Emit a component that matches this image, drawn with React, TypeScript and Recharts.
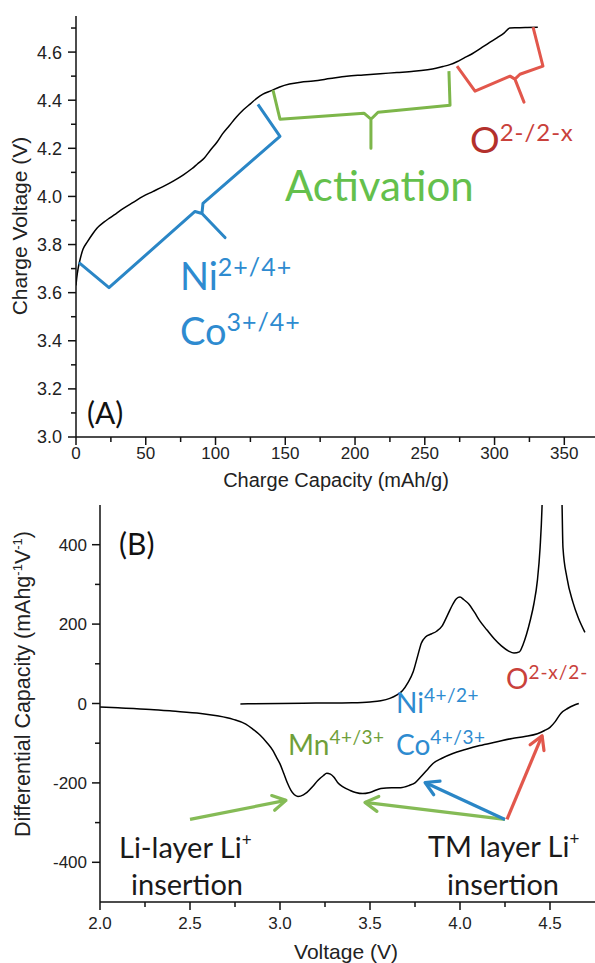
import React from 'react';
import { LineChart, Line, XAxis, YAxis } from 'recharts';

// ---------- Panel A: charge curve ----------
const capacityA = [0, 0.5, 1.5, 3, 5, 8, 12, 15, 20, 24, 29, 34, 41, 48, 55, 62, 70, 77, 83, 87, 92, 96, 101, 105, 110, 115, 120, 125, 130, 134, 140, 146, 153, 161, 170, 182, 194, 206, 218, 230, 242, 252, 258, 263, 268, 273, 278, 284, 290, 296, 302, 307, 311, 316, 322, 331];
const voltageA = [3.63, 3.66, 3.70, 3.74, 3.78, 3.81, 3.845, 3.868, 3.893, 3.91, 3.93, 3.95, 3.975, 4.0, 4.02, 4.04, 4.065, 4.09, 4.115, 4.135, 4.16, 4.19, 4.225, 4.26, 4.295, 4.33, 4.36, 4.385, 4.41, 4.425, 4.44, 4.455, 4.467, 4.475, 4.48, 4.49, 4.50, 4.505, 4.51, 4.515, 4.52, 4.527, 4.533, 4.54, 4.548, 4.56, 4.575, 4.593, 4.615, 4.638, 4.66, 4.68, 4.70, 4.701, 4.702, 4.703];

const xMajorA = [0, 50, 100, 150, 200, 250, 300, 350];
const xMinorA = [25, 75, 125, 175, 225, 275, 325];
const yMajorA = [3.0, 3.2, 3.4, 3.6, 3.8, 4.0, 4.2, 4.4, 4.6];
const yMinorA = [3.1, 3.3, 3.5, 3.7, 3.9, 4.1, 4.3, 4.5, 4.7];

// bracket annotations (data units of panel A)
const bracketBlueX = [2.15, 23.65, 85.3, 90.3, 106.8, 90.3, 91.0, 146.2, 130.4];
const bracketBlueY = [3.725, 3.621, 3.9375, 3.929, 3.829, 3.929, 3.971, 4.25, 4.383];
const bracketGreenX = [141.2, 146.2, 206.4, 211.4, 211.4, 211.4, 216.5, 268.1, 267.3];
const bracketGreenY = [4.442, 4.321, 4.346, 4.321, 4.2, 4.321, 4.35, 4.379, 4.521];
const bracketRedX = [273.1, 286.0, 311.1, 314.6, 321.1, 314.6, 318.2, 334.7, 327.6];
const bracketRedY = [4.542, 4.4375, 4.5, 4.4875, 4.392, 4.4875, 4.508, 4.542, 4.704];

// ---------- Panel B: differential capacity ----------
const dischargeV = [2.00, 2.10, 2.28, 2.40, 2.56, 2.65, 2.74, 2.81, 2.85, 2.89, 2.93, 2.96, 2.98, 3.00, 3.02, 3.04, 3.06, 3.08, 3.10, 3.13, 3.15, 3.18, 3.21, 3.24, 3.26, 3.28, 3.30, 3.32, 3.35, 3.39, 3.42, 3.46, 3.50, 3.56, 3.62, 3.67, 3.72, 3.75, 3.78, 3.82, 3.85, 3.90, 3.96, 4.03, 4.11, 4.20, 4.29, 4.36, 4.43, 4.47, 4.50, 4.53, 4.56, 4.60, 4.63, 4.66];
const dischargeDQ = [-9, -11, -15, -19, -25, -31, -40, -52, -65, -80, -100, -118, -135, -152, -175, -199, -218, -230, -234, -230, -224, -210, -194, -182, -176, -178, -186, -199, -210, -219, -224, -227, -224, -214, -212, -212, -206, -200, -186, -166, -151, -138, -126, -116, -106, -97, -88, -83, -76, -68, -60, -45, -25, -12, -5, 0];
const chargeV = [2.78, 3.00, 3.20, 3.40, 3.50, 3.56, 3.61, 3.65, 3.68, 3.71, 3.74, 3.765, 3.785, 3.81, 3.84, 3.87, 3.90, 3.93, 3.96, 3.98, 4.00, 4.02, 4.05, 4.08, 4.11, 4.15, 4.19, 4.23, 4.27, 4.30, 4.33, 4.35, 4.37, 4.39, 4.41, 4.43, 4.445, 4.456, 4.47, 4.51, 4.555, 4.567, 4.572, 4.594, 4.628, 4.656, 4.694];
const chargeDQ = [-1, 0, 1, 2, 4, 7, 13, 22, 32, 52, 80, 120, 152, 168, 175, 182, 195, 222, 250, 264, 268, 262, 250, 230, 208, 185, 163, 145, 132, 127, 130, 148, 175, 209, 250, 310, 393, 500, 800, 1300, 800, 500, 393, 317, 254, 217, 179];

const xMajorB = [2.0, 2.5, 3.0, 3.5, 4.0, 4.5];
const xMinorB = [2.25, 2.75, 3.25, 3.75, 4.25];
const yMajorB = [-400, -200, 0, 200, 400];
const yMinorB = [-300, -100, 100, 300];

// arrows (data units of panel B): [tailX, tailY, tipX, tipY]
const arrowLiLayer = [2.5, -292, 3.033, -244];
const arrowTmMn = [4.25, -292, 3.472, -249];
const arrowTmNiCo = [4.25, -292, 3.806, -199];
const arrowTmO = [4.261, -292, 4.456, -81];

const zip = (xs: number[], ys: number[]) => xs.map((x, i) => ({ x, y: ys[i] }));
const seg = (a: number[]) => [{ x: a[0], y: a[1] }, { x: a[2], y: a[3] }];

const AXIS_FONT = '"Liberation Sans", Arial, sans-serif';
const ANNO_FONT = 'Lato, "Open Sans", sans-serif';

const BLUE = '#2e8bd0';
const BLUE_LINE = '#2a86c6';
const GREEN_TXT = '#64c04c';
const GREEN_LINE = '#7db64a';
const GREEN_MN = '#6f9f3a';
const GREEN_ARROW = '#85bb56';
const RED_LINE = '#e2574c';
const RED_DARK = '#b3302c';
const RED_TXT = '#c9413b';

function makeTick(orient: 'x' | 'y', majors: number[], digits: number, fontSize: number, gap: number) {
  return (props: any) => {
    const { x, y, payload } = props;
    const v = payload.value as number;
    const isMajor = majors.some((m) => Math.abs(m - v) < 1e-6);
    const len = isMajor ? 8 : 5;
    if (orient === 'y') {
      return (
        <g>
          <line x1={x} x2={x - len} y1={y} y2={y} stroke="#111" strokeWidth={1.5} />
          {isMajor && (
            <text x={x - gap} y={y} dy="0.36em" textAnchor="end" fontFamily={AXIS_FONT} fontSize={fontSize} fill="#222">
              {v.toFixed(digits)}
            </text>
          )}
        </g>
      );
    }
    return (
      <g>
        <line x1={x} x2={x} y1={y} y2={y + len} stroke="#111" strokeWidth={1.5} />
        {isMajor && (
          <text x={x} y={y + gap} textAnchor="middle" fontFamily={AXIS_FONT} fontSize={fontSize} fill="#222">
            {v.toFixed(digits)}
          </text>
        )}
      </g>
    );
  };
}

const SupText = ({ x, y, base, sup, size, supSize, rise, fill, supFill, spacing = 0 }: any) => (
  <text x={x} y={y} fontFamily={ANNO_FONT} fontSize={size} fill={fill}>
    {base}
    <tspan fontSize={supSize} dy={-rise} fill={supFill || fill} letterSpacing={spacing}>
      {sup}
    </tspan>
  </text>
);

export default function App() {
  const dataA = zip(capacityA, voltageA);
  const dataDis = zip(dischargeV, dischargeDQ);
  const dataChg = zip(chargeV, chargeDQ);

  return (
    <div style={{ position: 'absolute', left: 0, top: 0, width: 595, height: 963, background: '#fff', overflow: 'hidden' }}>
      {/* Panel A */}
      <div style={{ position: 'absolute', left: 0, top: 0 }}>
        <LineChart width={595} height={500} margin={{ top: 16, right: 0, left: 0, bottom: 0 }}>
          <XAxis
            type="number"
            dataKey="x"
            domain={[0, 372]}
            allowDataOverflow
            ticks={[...xMajorA, ...xMinorA].sort((a, b) => a - b)}
            interval={0}
            height={63}
            tickSize={0}
            tickMargin={0}
            tickLine={false}
            axisLine={{ stroke: '#111', strokeWidth: 1.5 }}
            tick={makeTick('x', xMajorA, 0, 17, 22)}
          />
          <YAxis
            type="number"
            dataKey="y"
            domain={[3.0, 4.75]}
            allowDataOverflow
            ticks={[...yMajorA, ...yMinorA].sort((a, b) => a - b)}
            interval={0}
            width={76}
            tickSize={0}
            tickMargin={0}
            tickLine={false}
            axisLine={{ stroke: '#111', strokeWidth: 1.5 }}
            tick={makeTick('y', yMajorA, 1, 18, 14)}
          />
          <Line data={dataA} dataKey="y" type="monotone" stroke="#000" strokeWidth={1.5} dot={false} isAnimationActive={false} />
          <Line data={zip(bracketBlueX, bracketBlueY)} dataKey="y" type="linear" stroke={BLUE_LINE} strokeWidth={3} strokeLinejoin="round" dot={false} isAnimationActive={false} />
          <Line data={zip(bracketGreenX, bracketGreenY)} dataKey="y" type="linear" stroke={GREEN_LINE} strokeWidth={3} strokeLinejoin="round" dot={false} isAnimationActive={false} />
          <Line data={zip(bracketRedX, bracketRedY)} dataKey="y" type="linear" stroke={RED_LINE} strokeWidth={3} strokeLinejoin="round" dot={false} isAnimationActive={false} />
        </LineChart>
      </div>

      {/* Panel B */}
      <div style={{ position: 'absolute', left: 0, top: 490 }}>
        <LineChart width={595} height={473} margin={{ top: 15, right: 0, left: 0, bottom: 0 }}>
          <XAxis
            type="number"
            dataKey="x"
            domain={[2.0, 4.75]}
            allowDataOverflow
            ticks={[...xMajorB, ...xMinorB].sort((a, b) => a - b)}
            interval={0}
            height={61}
            tickSize={0}
            tickMargin={0}
            tickLine={false}
            axisLine={{ stroke: '#111', strokeWidth: 1.5 }}
            tick={makeTick('x', xMajorB, 1, 17, 27)}
          />
          <YAxis
            type="number"
            dataKey="y"
            domain={[-500, 500]}
            allowDataOverflow
            ticks={[...yMajorB, ...yMinorB].sort((a, b) => a - b)}
            interval={0}
            width={100}
            tickSize={0}
            tickMargin={0}
            tickLine={false}
            axisLine={{ stroke: '#111', strokeWidth: 1.5 }}
            tick={makeTick('y', yMajorB, 0, 17, 13)}
          />
          <Line data={dataDis} dataKey="y" type="monotone" stroke="#000" strokeWidth={1.5} dot={false} isAnimationActive={false} />
          <Line data={dataChg} dataKey="y" type="monotone" stroke="#000" strokeWidth={1.5} dot={false} isAnimationActive={false} />
          <Line data={seg(arrowLiLayer)} dataKey="y" type="linear" stroke={GREEN_ARROW} strokeWidth={3.2} markerEnd="url(#arrGreen)" dot={false} isAnimationActive={false} />
          <Line data={seg(arrowTmMn)} dataKey="y" type="linear" stroke={GREEN_ARROW} strokeWidth={3.2} markerEnd="url(#arrGreen)" dot={false} isAnimationActive={false} />
          <Line data={seg(arrowTmNiCo)} dataKey="y" type="linear" stroke={BLUE_LINE} strokeWidth={3.2} markerEnd="url(#arrBlue)" dot={false} isAnimationActive={false} />
          <Line data={seg(arrowTmO)} dataKey="y" type="linear" stroke={RED_LINE} strokeWidth={3.2} markerEnd="url(#arrRed)" dot={false} isAnimationActive={false} />
        </LineChart>
      </div>

      {/* Text overlay */}
      <svg width={595} height={963} style={{ position: 'absolute', left: 0, top: 0, pointerEvents: 'none' }}>
        <defs>
          {[
            ['arrGreen', GREEN_ARROW],
            ['arrBlue', BLUE_LINE],
            ['arrRed', RED_LINE],
          ].map(([id, c]) => (
            <marker key={id} id={id} viewBox="0 0 20 20" refX={16} refY={10} markerWidth={20} markerHeight={20} markerUnits="userSpaceOnUse" orient="auto">
              <path d="M3,2.5 L16,10 L3,17.5" fill="none" stroke={c} strokeWidth={3.2} strokeLinecap="round" strokeLinejoin="round" />
            </marker>
          ))}
        </defs>

        {/* axis titles */}
        <text x={27} y={226} transform="rotate(-90 27 226)" textAnchor="middle" fontFamily={AXIS_FONT} fontSize={21} fill="#222">
          Charge Voltage (V)
        </text>
        <text x={336} y={487} textAnchor="middle" fontFamily={AXIS_FONT} fontSize={20} fill="#222">
          Charge Capacity (mAh/g)
        </text>
        <text x={30} y={684} transform="rotate(-90 30 684)" textAnchor="middle" fontFamily={AXIS_FONT} fontSize={21.5} fill="#222">
          Differential Capacity (mAhg<tspan fontSize={13} dy={-8}>-1</tspan>
          <tspan dy={8}>V</tspan>
          <tspan fontSize={13} dy={-8}>-1</tspan>
          <tspan dy={8}>)</tspan>
        </text>
        <text x={346} y={959} textAnchor="middle" fontFamily={AXIS_FONT} fontSize={21} fill="#222">
          Voltage (V)
        </text>

        {/* Panel A annotations */}
        <text x={87} y={424} fontFamily={ANNO_FONT} fontSize={30} fill="#111">(A)</text>
        <SupText x={180} y={290} base="Ni" sup="2+/4+" size={38} supSize={25} rise={14} fill={BLUE} spacing={1} />
        <SupText x={180} y={345} base="Co" sup="3+/4+" size={38} supSize={25} rise={14} fill={BLUE} spacing={1} />
        <text x={285} y={201} fontFamily={ANNO_FONT} fontSize={42} fill={GREEN_TXT}>Activation</text>
        <SupText x={470} y={153} base="O" sup="2-/2-x" size={37} supSize={24} rise={12} fill={RED_DARK} supFill={RED_TXT} spacing={1} />

        {/* Panel B annotations */}
        <text x={119} y={555} fontFamily={ANNO_FONT} fontSize={30} fill="#111">(B)</text>
        <SupText x={288} y={755} base="Mn" sup="4+/3+" size={28} supSize={19} rise={11} fill={GREEN_MN} spacing={0.5} />
        <SupText x={396} y={713} base="Ni" sup="4+/2+" size={28} supSize={19} rise={11} fill={BLUE} spacing={0.5} />
        <SupText x={396} y={755} base="Co" sup="4+/3+" size={28} supSize={19} rise={11} fill={BLUE} spacing={0.5} />
        <SupText x={506} y={689} base="O" sup="2-x/2-" size={28} supSize={19} rise={10} fill={RED_TXT} spacing={1} />
        <SupText x={119} y={858} base="Li-layer Li" sup="+" size={29} supSize={17} rise={12} fill="#1a1a1a" />
        <text x={131} y={895} fontFamily={ANNO_FONT} fontSize={29} fill="#1a1a1a">insertion</text>
        <SupText x={428} y={857} base="TM layer Li" sup="+" size={29} supSize={17} rise={12} fill="#1a1a1a" />
        <text x={447} y={895} fontFamily={ANNO_FONT} fontSize={29} fill="#1a1a1a">insertion</text>
      </svg>
    </div>
  );
}
